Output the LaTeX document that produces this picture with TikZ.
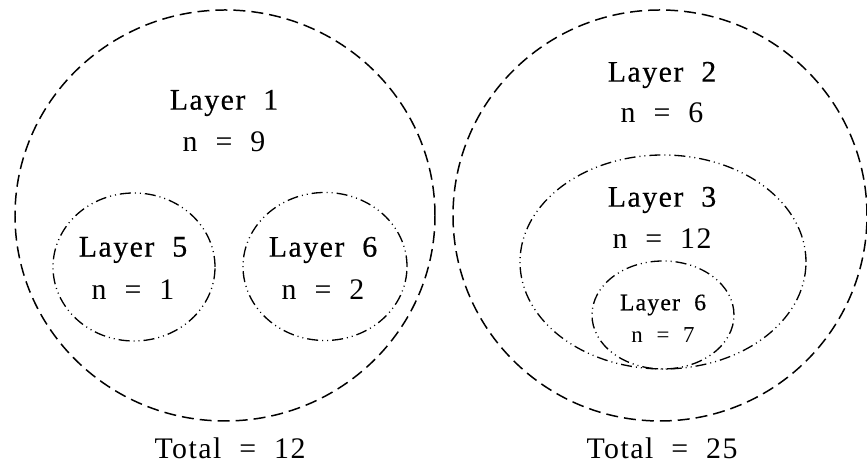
\documentclass[tikz,border=0pt]{standalone}
\usepackage{fontspec}
\newfontfamily\labelfont{Liberation Serif}[LetterSpace=5, WordSpace=2]
\newfontfamily\titlefont{Liberation Serif}[LetterSpace=5, WordSpace=2, FakeBold=0.5]
\usetikzlibrary{positioning}
\tikzset{
  layer/.style={dash pattern=on 0.24cm off 0.12cm, line width=0.85pt},
  sublayer/.style={dash pattern=on 0.22cm off 0.08cm on 0.02cm off 0.08cm on 0.02cm off 0.08cm, line width=0.75pt},
  title/.style={font=\fontsize{17}{20}\selectfont\titlefont, inner sep=0pt},
  count/.style={font=\fontsize{17}{20}\selectfont\labelfont, inner sep=0pt},
  smalltitle/.style={font=\fontsize{13.5}{16}\selectfont\titlefont, inner sep=0pt},
  smallcount/.style={font=\fontsize{13}{15}\selectfont\labelfont, inner sep=0pt}
}
\begin{document}
\begin{tikzpicture}[x=0.02cm, y=0.02cm]
    \useasboundingbox (0,0) rectangle (867,465);

    % left group
    \draw[layer] (225,249.5) ellipse [x radius=210, y radius=205.5];
    \draw[sublayer] (134,198) ellipse [x radius=81, y radius=74];
    \draw[sublayer] (325,198.5) ellipse [x radius=82, y radius=74];

    \node[title] (l1) at (224,362) {Layer 1};
    \node[count] (n1) at (224,323) {n = 9};
    \node[title] (l5) at (133,215) {Layer 5};
    \node[count] (n5) at (133,175) {n = 1};
    \node[title] (l6a) at (323,215) {Layer 6};
    \node[count] (n6a) at (323,175) {n = 2};
    \node[count] (t1) at (230,17) {Total = 12};

    % right group
    \draw[layer] (660,249.5) ellipse [x radius=207, y radius=205.5];
    \draw[sublayer] (663,203) ellipse [x radius=143, y radius=107];
    \draw[sublayer] (663,150) ellipse [x radius=71, y radius=54];

    \node[title] (l2) at (662,390) {Layer 2};
    \node[count] (n2) at (662,352) {n = 6};
    \node[title] (l3) at (662,265) {Layer 3};
    \node[count] (n3) at (662,226) {n = 12};
    \node[smalltitle] (l6b) at (663,160) {Layer 6};
    \node[smallcount] (n6b) at (663,130) {n = 7};
    \node[count] (t2) at (662,17) {Total = 25};
\end{tikzpicture}
\end{document}
